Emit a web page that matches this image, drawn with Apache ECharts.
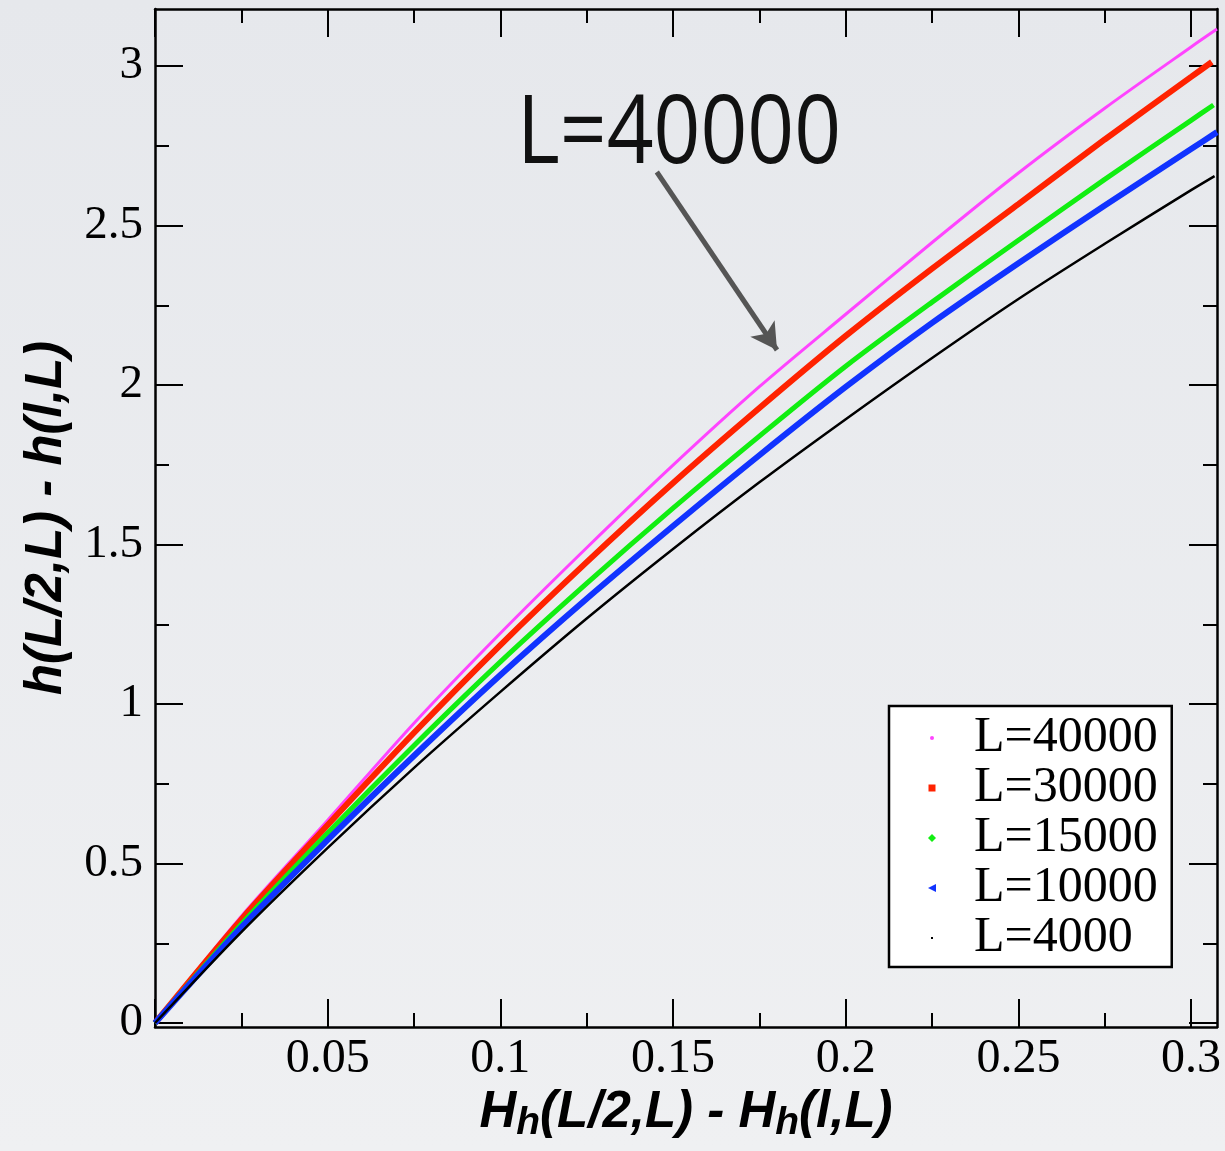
<!DOCTYPE html>
<html>
<head>
<meta charset="utf-8">
<script src="https://cdn.jsdelivr.net/npm/echarts@6/dist/echarts.min.js"></script>
<style>
html,body{margin:0;padding:0;background:#eaebee;}
#chart{width:1225px;height:1151px;}
</style>
</head>
<body>
<div id="chart"></div>
<script>
// ---- data ----
const seriesNames = ['L=40000', 'L=30000', 'L=15000', 'L=10000', 'L=4000'];
const xValues = [0, 0.025, 0.05, 0.075, 0.1, 0.125, 0.15, 0.175, 0.2, 0.225, 0.25, 0.275, 0.3];
const lastX = [0.3075, 0.306, 0.3065, 0.3075, 0.3068];
const yL40000 = [0, 0.335, 0.636, 0.940, 1.222, 1.490, 1.749, 1.995, 2.222, 2.447, 2.665, 2.868, 3.060, 3.116];
const yL30000 = [0, 0.325, 0.621, 0.910, 1.185, 1.445, 1.693, 1.928, 2.154, 2.365, 2.567, 2.770, 2.966, 3.013];
const yL15000 = [0, 0.310, 0.596, 0.870, 1.132, 1.378, 1.614, 1.840, 2.059, 2.260, 2.454, 2.645, 2.830, 2.878];
const yL10000 = [0, 0.300, 0.574, 0.838, 1.091, 1.330, 1.558, 1.780, 1.994, 2.195, 2.382, 2.563, 2.740, 2.793];
const yL4000  = [0, 0.285, 0.549, 0.800, 1.038, 1.268, 1.486, 1.695, 1.893, 2.085, 2.270, 2.443, 2.611, 2.655];
const xMajorTicks = [0, 0.05, 0.1, 0.15, 0.2, 0.25, 0.3];
const xMinorTicks = [0.025, 0.075, 0.125, 0.175, 0.225, 0.275];
const xTickLabels = [0.05, 0.1, 0.15, 0.2, 0.25, 0.3];
const yMajorTicks = [0, 0.5, 1, 1.5, 2, 2.5, 3];
const yMinorTicks = [0.25, 0.75, 1.25, 1.75, 2.25, 2.75];
const yTickLabels = [0, 0.5, 1, 1.5, 2, 2.5, 3];
const annotationText = 'L=40000';

// ---- styling ----
const colors = ['#ff44ff', '#ff2200', '#11ee11', '#1133ff', '#000000'];
const widths = [3, 6, 5, 6, 2.5];
const icons = [
  'path://M0,0M10,10M3,5A2,2,0,1,0,7,5A2,2,0,1,0,3,5Z',
  'path://M0,0M10,10M1.5,1.5L8.5,1.5L8.5,8.5L1.5,8.5Z',
  'path://M0,0M10,10M5,1L9,5L5,9L1,5Z',
  'path://M0,0M10,10M1,5L9,1L9,9Z',
  'path://M0,0M10,10M4,4L6,4L6,6L4,6Z'
];
const ys = [yL40000, yL30000, yL15000, yL10000, yL4000];
const X_MIN = 0, X_MAX = 0.3075, Y_MIN = -0.0125, Y_MAX = 3.179;
const serif = '"Liberation Serif", "Times New Roman", serif';
const sans = '"Liberation Sans", Arial, sans-serif';

function xAxisDef(pos, ticks, len, withLabels) {
  return {
    type: 'value', position: pos, min: X_MIN, max: X_MAX,
    axisLine: {show: len > 20, onZero: false, lineStyle: {color: '#000', width: 2.5}},
    axisTick: {show: true, inside: true, length: len, customValues: ticks, lineStyle: {color: '#000', width: 2}},
    axisLabel: withLabels ? {show: true, customValues: xTickLabels, color: '#000', fontFamily: serif, fontSize: 48, margin: 8} : {show: false},
    splitLine: {show: false}
  };
}
function yAxisDef(pos, ticks, len, withLabels) {
  return {
    type: 'value', position: pos, min: Y_MIN, max: Y_MAX,
    axisLine: {show: len > 20, onZero: false, lineStyle: {color: '#000', width: 2.5}},
    axisTick: {show: true, inside: true, length: len, customValues: ticks, lineStyle: {color: '#000', width: 2}},
    axisLabel: withLabels ? {show: true, customValues: yTickLabels, color: '#000', fontFamily: serif, fontSize: 47, margin: 12} : {show: false},
    splitLine: {show: false}
  };
}

const xMain = xAxisDef('bottom', xMajorTicks, 28, true);
xMain.name = '{i|H}{s|h}{i|(L/2,L) - H}{s|h}{i|(l,L)}';
xMain.nameLocation = 'middle';
xMain.nameGap = 60;
xMain.nameMoveOverlap = false;
xMain.nameTextStyle = {
  rich: {
    i: {fontFamily: sans, fontWeight: 'bold', fontStyle: 'italic', fontSize: 51, color: '#000', lineHeight: 56, verticalAlign: 'top'},
    s: {fontFamily: sans, fontWeight: 'bold', fontStyle: 'italic', fontSize: 39, color: '#000', lineHeight: 42, verticalAlign: 'bottom', padding: [50, 0, 0, 0]}
  }
};
const yMain = yAxisDef('left', yMajorTicks, 28, true);
yMain.name = 'h(L/2,L) - h(l,L)';
yMain.nameLocation = 'middle';
yMain.nameGap = 83;
yMain.nameMoveOverlap = false;
yMain.nameTextStyle = {fontFamily: sans, fontWeight: 'bold', fontStyle: 'italic', fontSize: 51, color: '#000'};

const series = seriesNames.map(function (name, i) {
  const pts = xValues.map(function (x, j) { return [x, ys[i][j]]; });
  pts.push([lastX[i], ys[i][ys[i].length - 1]]);
  return {
    name: name, type: 'line', data: pts, smooth: 0.3, showSymbol: false, symbol: 'none',
    color: colors[i], itemStyle: {color: colors[i]},
    lineStyle: {color: colors[i], width: widths[i]}, z: 2 + i
  };
});
series[0].markLine = {
  silent: true, symbol: ['none', 'arrow'], symbolSize: [22, 26],
  label: {show: false},
  lineStyle: {color: '#555', width: 5, type: 'solid'},
  data: [[{coord: [0.1453, 2.668]}, {coord: [0.1801, 2.110]}]]
};

const option = {
  backgroundColor: {type: 'linear', x: 0, y: 0, x2: 0, y2: 1, colorStops: [{offset: 0, color: '#e6e8ec'}, {offset: 1, color: '#eff0f2'}]},
  animation: false,
  grid: {left: 155, right: 8, top: 9, bottom: 124, containLabel: false, outerBoundsMode: 'none'},
  xAxis: [xMain, xAxisDef('top', xMajorTicks, 28, false), xAxisDef('bottom', xMinorTicks, 14, false), xAxisDef('top', xMinorTicks, 14, false)],
  yAxis: [yMain, yAxisDef('right', yMajorTicks, 28, false), yAxisDef('left', yMinorTicks, 14, false), yAxisDef('right', yMinorTicks, 14, false)],
  legend: {
    orient: 'vertical', left: 889, top: 706, selectedMode: false,
    backgroundColor: '#ffffff', borderColor: '#000', borderWidth: 2.5, borderRadius: 0,
    padding: [7, 14, 4, 38], itemGap: 0, itemWidth: 10, itemHeight: 10,
    textStyle: {fontFamily: serif, fontSize: 50, color: '#000', lineHeight: 49, padding: [0, 0, 0, 32]},
    data: seriesNames.map(function (n, i) { return {name: n, icon: icons[i], itemStyle: {color: colors[i]}}; })
  },
  graphic: [{
    type: 'text', left: 517, top: 88, scaleY: 1.16, z: 100,
    style: {text: annotationText, font: '82px "Open Sans", "DejaVu Sans", sans-serif', fill: '#111'}
  }],
  series: series
};

const chart = echarts.init(document.getElementById('chart'), null, {renderer: 'canvas'});
chart.setOption(option);
</script>
</body>
</html>
